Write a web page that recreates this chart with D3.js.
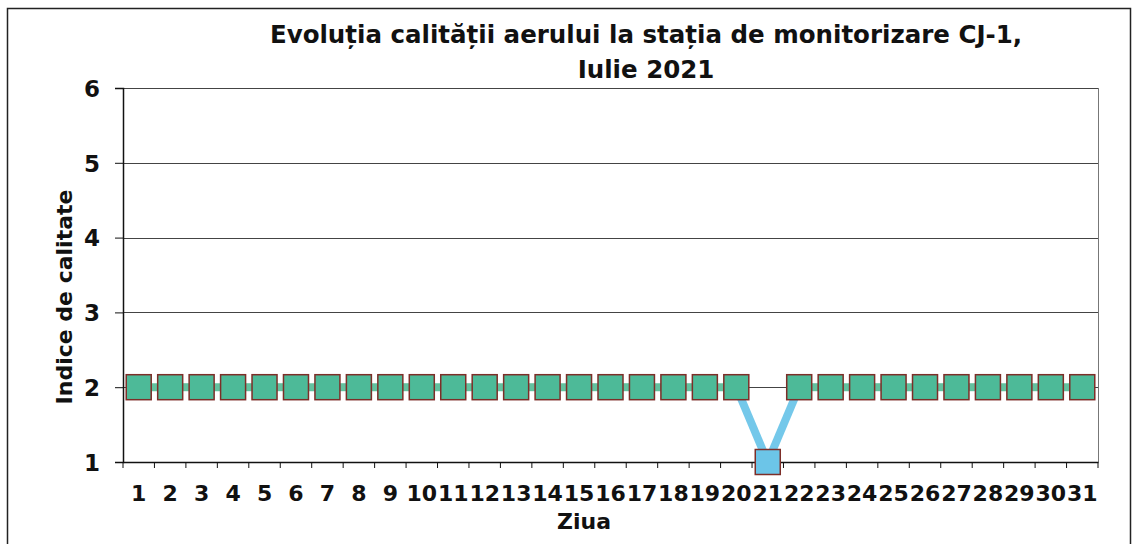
<!DOCTYPE html>
<html>
<head>
<meta charset="utf-8">
<script src="https://cdn.jsdelivr.net/npm/d3@7"></script>
<style>
  body { margin: 0; background: #fff; }
  text { font-family: "DejaVu Sans", "Liberation Sans", sans-serif; font-weight: bold; fill: #111; }
</style>
</head>
<body>
<svg id="chart" width="1135" height="544"></svg>
<script>
// values
var days = [1, 2, 3, 4, 5, 6, 7, 8, 9, 10, 11, 12, 13, 14, 15, 16,
            17, 18, 19, 20, 21, 22, 23, 24, 25, 26, 27, 28, 29, 30, 31];
var qualityIndex = [2, 2, 2, 2, 2, 2, 2, 2, 2, 2, 2, 2, 2, 2, 2, 2,
                    2, 2, 2, 2, 1, 2, 2, 2, 2, 2, 2, 2, 2, 2, 2];
var yTicks = [1, 2, 3, 4, 5, 6];
var titleLines = ["Evoluția calității aerului la stația de monitorizare CJ-1,", "Iulie 2021"];

function drawChart() {
    var svg = d3.select("#chart"),
        margin = {top: 88, right: 37, bottom: 82, left: 123},
        width = +svg.attr("width") - margin.left - margin.right,
        height = +svg.attr("height") - margin.top - margin.bottom;

    // outer frame of the chart
    svg.append("rect")
        .attr("x", 7.5).attr("y", 8.5)
        .attr("width", 1123).attr("height", 560)
        .attr("fill", "none").attr("stroke", "#222").attr("stroke-width", 1.5);

    var g = svg.append("g").attr("transform", "translate(" + margin.left + "," + margin.top + ")");

    var x = d3.scaleBand().domain(days).range([0, width]),
        y = d3.scaleLinear().domain([1, 6]).range([height, 0]);

    // colour per index level
    var colour = d3.scaleOrdinal().domain([1, 2]).range(["#6cc5e8", "#4dba98"]);
    var lineColour = d3.scaleOrdinal().domain([1, 2]).range(["#74c8ea", "#62c29f"]);

    // horizontal gridlines
    g.append("g")
        .selectAll("line")
        .data(yTicks)
        .enter().append("line")
        .attr("x1", 0).attr("x2", width)
        .attr("y1", function(d) { return Math.round(y(d)) + 0.5; })
        .attr("y2", function(d) { return Math.round(y(d)) + 0.5; })
        .attr("stroke", "#444").attr("stroke-width", 1.2);

    // right edge of plot area
    g.append("line")
        .attr("x1", width + 0.5).attr("x2", width + 0.5)
        .attr("y1", 0).attr("y2", height)
        .attr("stroke", "#777");

    // y axis
    var yAxis = g.append("g")
        .call(d3.axisLeft(y).tickValues(yTicks).tickFormat(d3.format("d")).tickSize(8).tickPadding(15));
    yAxis.select(".domain").attr("stroke", "#111").attr("stroke-width", 1.5);
    yAxis.selectAll(".tick line").attr("stroke", "#111");
    yAxis.selectAll(".tick text").style("font-size", "23px").attr("dy", "0.36em");

    // x axis: labels centred in bands, ticks on band edges
    var xAxis = g.append("g")
        .attr("transform", "translate(0," + height + ")")
        .call(d3.axisBottom(x).tickSize(0).tickPadding(23));
    xAxis.select(".domain").attr("stroke", "#111").attr("stroke-width", 1.5);
    xAxis.selectAll(".tick text").style("font-size", "22px");

    var edges = days.map(function(d) { return x(d); }).concat([width]);
    xAxis.selectAll(".edge")
        .data(edges)
        .enter().append("line")
        .attr("class", "edge")
        .attr("x1", function(d) { return d; }).attr("x2", function(d) { return d; })
        .attr("y1", 0).attr("y2", 6)
        .attr("stroke", "#111");

    // line, drawn segment by segment so colour follows the level
    var points = days.map(function(d, i) { return {day: d, value: qualityIndex[i]}; });
    var cx = function(p) { return x(p.day) + x.bandwidth() / 2; };
    var segs = d3.pairs(points);

    g.append("g")
        .selectAll("line")
        .data(segs)
        .enter().append("line")
        .attr("x1", function(s) { return cx(s[0]); })
        .attr("y1", function(s) { return y(s[0].value); })
        .attr("x2", function(s) { return cx(s[1]); })
        .attr("y2", function(s) { return y(s[1].value); })
        .attr("stroke", function(s) { return lineColour(Math.min(s[0].value, s[1].value)); })
        .attr("stroke-width", 8);

    // square markers
    var size = 25;
    g.append("g")
        .selectAll("rect")
        .data(points)
        .enter().append("rect")
        .attr("x", function(p) { return cx(p) - size / 2; })
        .attr("y", function(p) { return y(p.value) - size / 2; })
        .attr("width", size).attr("height", size)
        .attr("fill", function(p) { return colour(p.value); })
        .attr("stroke", "#7d2e28").attr("stroke-width", 1.5);

    // titles
    svg.append("g")
        .selectAll("text")
        .data(titleLines)
        .enter().append("text")
        .attr("x", 646)
        .attr("y", function(d, i) { return 43 + i * 35; })
        .attr("text-anchor", "middle")
        .style("font-size", "24.5px")
        .text(function(d) { return d; });

    svg.append("text")
        .attr("transform", "translate(72,297) rotate(-90)")
        .attr("text-anchor", "middle")
        .style("font-size", "22px")
        .text("Indice de calitate");

    svg.append("text")
        .attr("x", 584)
        .attr("y", 529)
        .attr("text-anchor", "middle")
        .style("font-size", "22px")
        .text("Ziua");
}

drawChart();
</script>
</body>
</html>
